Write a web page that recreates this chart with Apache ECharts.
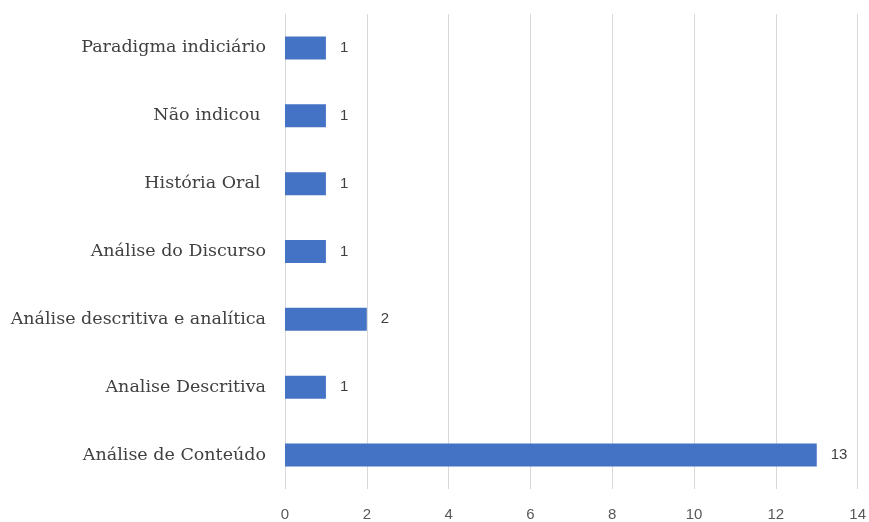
<!DOCTYPE html>
<html>
<head>
<meta charset="utf-8">
<script src="https://cdn.jsdelivr.net/npm/echarts@6/dist/echarts.min.js"></script>
<style>
  html, body { margin: 0; padding: 0; background: #fff; }
  #chart { width: 869px; height: 522px; }
</style>
</head>
<body>
<div id="chart"></div>
<script>
// categories bottom -> top
var categories = [
  'Análise de Conteúdo',
  'Analise Descritiva',
  'Análise descritiva e analítica',
  'Análise do Discurso',
  'História Oral ',
  'Não indicou ',
  'Paradigma indiciário'
];
var values = [13, 1, 2, 1, 1, 1, 1];
var xTicks = [0, 2, 4, 6, 8, 10, 12, 14];

var chart = echarts.init(document.getElementById('chart'));
chart.setOption({
  animation: false,
  grid: {
    left: 285,
    right: 11,
    top: 14,
    bottom: 29,
    containLabel: false
  },
  xAxis: {
    type: 'value',
    min: xTicks[0],
    max: xTicks[xTicks.length - 1],
    interval: 2,
    axisLine: { show: false },
    axisTick: { show: false },
    axisLabel: {
      color: '#595959',
      fontFamily: 'Liberation Sans',
      fontSize: 15,
      margin: 18
    },
    splitLine: {
      show: true,
      lineStyle: { color: '#d9d9d9', width: 1 }
    }
  },
  yAxis: {
    type: 'category',
    data: categories,
    axisLine: { show: false },
    axisTick: { show: false },
    axisLabel: {
      color: '#404040',
      fontFamily: 'DejaVu Serif',
      fontSize: 17.5,
      margin: 19
    },
    splitLine: { show: false }
  },
  series: [
    {
      type: 'bar',
      data: values,
      barWidth: 23,
      itemStyle: { color: '#4472C4' },
      label: {
        show: true,
        position: 'right',
        distance: 14,
        color: '#404040',
        fontFamily: 'Liberation Sans',
        fontSize: 15
      }
    }
  ]
});
</script>
</body>
</html>
